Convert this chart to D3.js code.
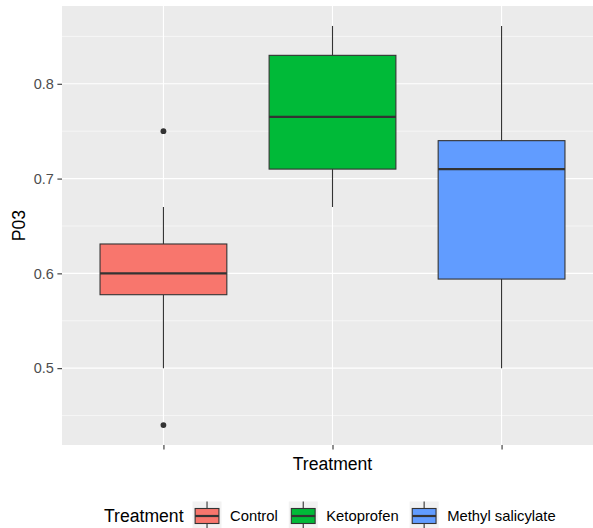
<!DOCTYPE html>
<html>
<head>
<meta charset="utf-8">
<script src="https://cdn.jsdelivr.net/npm/d3@7"></script>
<style>
  html, body { margin: 0; padding: 0; background: #ffffff; }
  svg { display: block; font-family: "Liberation Sans", Arial, sans-serif; }
</style>
</head>
<body>
<svg id="chart" width="593" height="528"></svg>
<script>
// Treatment groups and their box-plot summaries for P03
const treatments = ["Control", "Ketoprofen", "Methyl salicylate"];
const colors     = ["#F8766D", "#00BA38", "#619CFF"];
const whiskerLow  = [0.50, 0.67, 0.50];
const q1          = [0.5775, 0.71, 0.594];
const medians     = [0.60, 0.765, 0.71];
const q3          = [0.631, 0.83, 0.74];
const whiskerHigh = [0.67, 0.861, 0.861];
const outliers    = [[0.75, 0.44], [], []];
const yTicks      = [0.5, 0.6, 0.7, 0.8];
const yMinorTicks = [0.45, 0.55, 0.65, 0.75, 0.85];

const textSize  = "14.8px";
const titleSize = "17.6px";

const svg = d3.select("#chart");
const panel = { left: 62, top: 6, right: 603, bottom: 445 };

// y domain: data range expanded by 5% on each side
const allVals = whiskerLow.concat(whiskerHigh, ...outliers);
const [lo, hi] = d3.extent(allVals);
const pad = (hi - lo) * 0.05;
const y = d3.scaleLinear().domain([lo - pad, hi + pad]).range([panel.bottom, panel.top]);

// discrete x with 0.6 unit expansion at both ends
const x = d3.scaleLinear()
  .domain([1 - 0.6, treatments.length + 0.6])
  .range([panel.left, panel.right]);
const boxHalf = 0.375;

// panel background
svg.append("rect")
  .attr("x", panel.left).attr("y", panel.top)
  .attr("width", panel.right - panel.left).attr("height", panel.bottom - panel.top)
  .attr("fill", "#EBEBEB");

// grid lines
const grid = svg.append("g");
grid.selectAll(".minor").data(yMinorTicks).join("line")
  .attr("x1", panel.left).attr("x2", panel.right)
  .attr("y1", d => y(d)).attr("y2", d => y(d))
  .attr("stroke", "#ffffff").attr("stroke-width", 0.55);
grid.selectAll(".major").data(yTicks).join("line")
  .attr("x1", panel.left).attr("x2", panel.right)
  .attr("y1", d => y(d)).attr("y2", d => y(d))
  .attr("stroke", "#ffffff").attr("stroke-width", 1.1);
grid.selectAll(".vmajor").data(treatments).join("line")
  .attr("x1", (d, i) => x(i + 1)).attr("x2", (d, i) => x(i + 1))
  .attr("y1", panel.top).attr("y2", panel.bottom)
  .attr("stroke", "#ffffff").attr("stroke-width", 1.1);

// boxes
const boxes = svg.append("g").selectAll("g").data(treatments).join("g");
boxes.append("line")
  .attr("x1", (d, i) => x(i + 1)).attr("x2", (d, i) => x(i + 1))
  .attr("y1", (d, i) => y(whiskerHigh[i])).attr("y2", (d, i) => y(q3[i]))
  .attr("stroke", "#333333").attr("stroke-width", 1.1);
boxes.append("line")
  .attr("x1", (d, i) => x(i + 1)).attr("x2", (d, i) => x(i + 1))
  .attr("y1", (d, i) => y(q1[i])).attr("y2", (d, i) => y(whiskerLow[i]))
  .attr("stroke", "#333333").attr("stroke-width", 1.1);
boxes.append("rect")
  .attr("x", (d, i) => x(i + 1 - boxHalf))
  .attr("width", (d, i) => x(i + 1 + boxHalf) - x(i + 1 - boxHalf))
  .attr("y", (d, i) => y(q3[i]))
  .attr("height", (d, i) => y(q1[i]) - y(q3[i]))
  .attr("fill", (d, i) => colors[i])
  .attr("stroke", "#333333").attr("stroke-width", 1.1);
boxes.append("line")
  .attr("x1", (d, i) => x(i + 1 - boxHalf)).attr("x2", (d, i) => x(i + 1 + boxHalf))
  .attr("y1", (d, i) => y(medians[i])).attr("y2", (d, i) => y(medians[i]))
  .attr("stroke", "#333333").attr("stroke-width", 2.2);
boxes.each(function (d, i) {
  d3.select(this).selectAll("circle").data(outliers[i]).join("circle")
    .attr("cx", x(i + 1)).attr("cy", v => y(v)).attr("r", 2.9)
    .attr("fill", "#333333");
});

// y axis
const yAxis = svg.append("g")
  .attr("transform", `translate(${panel.left},0)`)
  .call(d3.axisLeft(y).tickValues(yTicks).tickSize(4.6).tickPadding(3.5).tickFormat(d3.format(".1f")));
yAxis.select(".domain").remove();
yAxis.selectAll(".tick line").attr("stroke", "#333333").attr("stroke-width", 1.1);
yAxis.selectAll(".tick text").attr("fill", "#4D4D4D")
  .style("font-size", "14.5px").style("font-family", "'Liberation Sans', Arial, sans-serif");

// x axis: ticks only
const xAxis = svg.append("g")
  .attr("transform", `translate(0,${panel.bottom})`)
  .call(d3.axisBottom(x).tickValues(treatments.map((d, i) => i + 1)).tickSize(4.6).tickFormat(""));
xAxis.select(".domain").remove();
xAxis.selectAll(".tick line").attr("stroke", "#333333").attr("stroke-width", 1.1);

// axis titles
svg.append("text")
  .attr("x", (panel.left + panel.right) / 2).attr("y", 470)
  .attr("text-anchor", "middle").style("font-size", titleSize).attr("fill", "#000")
  .text("Treatment");
svg.append("text")
  .attr("transform", `translate(25,${(panel.top + panel.bottom) / 2}) rotate(-90)`)
  .attr("text-anchor", "middle").style("font-size", titleSize).attr("fill", "#000")
  .text("P03");

// legend
const legend = svg.append("g");
const legendY = 516;
const title = legend.append("text")
  .attr("x", 104).attr("y", legendY + 6.3)
  .style("font-size", titleSize).attr("fill", "#000")
  .text("Treatment");
let cursor = 104 + title.node().getComputedTextLength() + 9;
treatments.forEach((t, i) => {
  const k = legend.append("g").attr("transform", `translate(${cursor},${legendY})`);
  k.append("rect").attr("x", 0).attr("y", -14.5).attr("width", 29).attr("height", 29).attr("fill", "#F2F2F2");
  k.append("line").attr("x1", 14.5).attr("x2", 14.5).attr("y1", -14.5).attr("y2", 14.5)
    .attr("stroke", "#333333").attr("stroke-width", 1.1);
  k.append("rect").attr("x", 2.6).attr("y", -7.5).attr("width", 23.8).attr("height", 15)
    .attr("fill", colors[i]).attr("stroke", "#333333").attr("stroke-width", 1.1);
  k.append("line").attr("x1", 2.6).attr("x2", 26.4).attr("y1", 0).attr("y2", 0)
    .attr("stroke", "#333333").attr("stroke-width", 2.2);
  const lab = k.append("text").attr("x", 37.5).attr("y", 5.3)
    .style("font-size", textSize).attr("fill", "#000").text(t);
  cursor += 37.5 + lab.node().getComputedTextLength() + 11;
});
</script>
</body>
</html>
